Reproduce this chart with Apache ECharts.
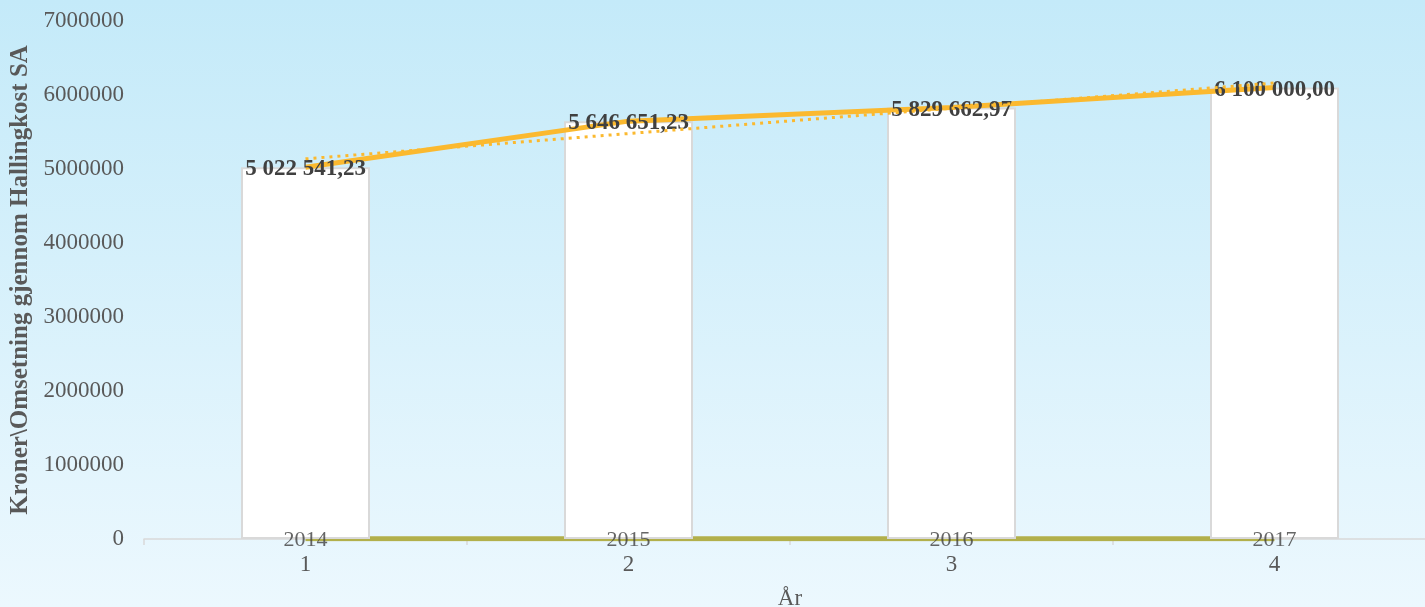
<!DOCTYPE html>
<html>
<head>
<meta charset="utf-8">
<script src="https://cdn.jsdelivr.net/npm/echarts@6/dist/echarts.min.js"></script>
<style>
html,body{margin:0;padding:0;}
#chart{width:1425px;height:607px;}
</style>
</head>
<body>
<div id="chart"></div>
<script>
const categories = ['1', '2', '3', '4'];
const years = [2014, 2015, 2016, 2017];
const turnover = [5022541.23, 5646651.23, 5829662.97, 6100000.00];
const trend = [5137000, 5479000, 5821000, 6162000];
const yTicks = [0, 1000000, 2000000, 3000000, 4000000, 5000000, 6000000, 7000000];

function fmtNo(v) {
  const parts = v.toFixed(2).split('.');
  const int = parts[0].replace(/\B(?=(\d{3})+(?!\d))/g, ' ');
  return int + ',' + parts[1];
}

const FONT = 'Liberation Serif';
const chart = echarts.init(document.getElementById('chart'));
chart.setOption({
  animation: false,
  backgroundColor: {
    type: 'linear', x: 0, y: 0, x2: 0, y2: 1,
    colorStops: [{offset: 0, color: '#c4eaf9'}, {offset: 1, color: '#ecf8fe'}]
  },
  grid: {left: 144, top: 21, width: 1292, height: 518, containLabel: false, outerBoundsMode: 'none'},
  xAxis: {
    type: 'category',
    data: categories,
    boundaryGap: true,
    name: 'År',
    nameLocation: 'middle',
    nameGap: 48,
    nameTextStyle: {fontFamily: FONT, fontSize: 23, color: '#595959'},
    axisLine: {show: true, lineStyle: {color: '#d9d9d9', width: 1.5}},
    axisTick: {show: true, length: 6, lineStyle: {color: '#d9d9d9', width: 1.5}},
    axisLabel: {fontFamily: FONT, fontSize: 23, color: '#595959', margin: 14}
  },
  yAxis: {
    type: 'value',
    min: yTicks[0],
    max: yTicks[yTicks.length - 1],
    interval: 1000000,
    name: 'Kroner\\Omsetning gjennom Hallingkost SA',
    nameLocation: 'middle',
    nameGap: 104,
    nameTextStyle: {fontFamily: FONT, fontSize: 25, fontWeight: 'bold', color: '#595959'},
    axisLine: {show: false},
    axisTick: {show: false},
    splitLine: {show: false},
    axisLabel: {fontFamily: FONT, fontSize: 23, color: '#595959', margin: 20, formatter: v => String(v)}
  },
  series: [
    {
      name: 'År',
      type: 'line',
      data: years,
      z: 1,
      symbol: 'none',
      lineStyle: {color: '#b2b04b', width: 5}
    },
    {
      name: 'Omsetning',
      type: 'bar',
      data: turnover,
      z: 2,
      barWidth: 129,
      itemStyle: {color: '#ffffff', borderColor: '#d9d9d9', borderWidth: 2}
    },
    {
      name: 'Omsetning linje',
      type: 'line',
      data: turnover,
      z: 3,
      symbol: 'circle',
      symbolSize: 1,
      itemStyle: {color: 'rgba(0,0,0,0)'},
      lineStyle: {color: '#fbb92f', width: 5},
      label: {
        show: true, position: 'inside', offset: [0, 2],
        fontFamily: FONT, fontSize: 23, fontWeight: 'bold', color: '#404040',
        formatter: p => fmtNo(p.value)
      }
    },
    {
      name: 'Trend',
      type: 'line',
      data: trend,
      z: 4,
      symbol: 'none',
      lineStyle: {color: '#fbb92f', width: 3, type: [3, 5]}
    },
    {
      name: 'Årstall',
      type: 'scatter',
      data: years,
      z: 5,
      symbolSize: 0,
      label: {
        show: true, position: 'inside', offset: [0, 1],
        fontFamily: FONT, fontSize: 22, color: '#404040',
        formatter: p => String(p.value)
      }
    }
  ]
});
</script>
</body>
</html>
